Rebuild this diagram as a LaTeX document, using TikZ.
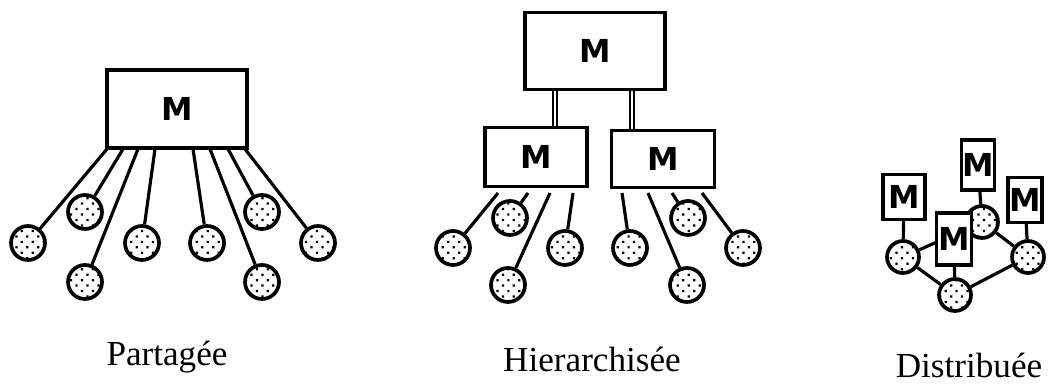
\documentclass[tikz,border=0pt]{standalone}
\usepackage{fontspec}
\setmainfont{Liberation Serif}
\setsansfont{DejaVu Sans}
\usetikzlibrary{patterns.meta}

\tikzdeclarepattern{
  name=spots,
  type=uncolored,
  bounding box={(-2.5pt,-2.5pt) and (2.5pt,2.5pt)},
  tile size={(4.4pt,4.4pt)},
  tile transformation={rotate=45},
  code={\fill (0,0) circle (0.9pt);}
}

\begin{document}
\begin{tikzpicture}[x=0.02cm,y=-0.02cm,line width=1.8pt,
  mem/.style={draw,fill=white,inner sep=0pt,font=\sffamily\bfseries\fontsize{18}{18}\selectfont},
  disc/.style={circle,draw,line width=2.1pt,preaction={fill=white},pattern=spots,
    pattern color=black,minimum size=0.68cm,inner sep=0pt},
  small disc/.style={disc,minimum size=0.64cm},
  bus/.style={double,double distance=1.1pt,line width=1.4pt},
  caption/.style={font=\fontsize{20}{20}\selectfont,anchor=base}]
\useasboundingbox (0,0) rectangle (1051,384);

% Partagee
\node[mem,minimum width=2.8cm,minimum height=1.56cm] (pm) at (177,109) {M};
\foreach \n/\cx/\cy/\ax in {1/28/243/107,2/85/212/123,3/85/282/138,4/142/243/155,
    5/207/243/193,6/262/282/210,7/262/212/228,8/318/243/245}{
  \node[disc] (p\n) at (\cx,\cy) {};
  \coordinate (pa\n) at (\ax,149);
  \draw (p\n) -- (pa\n);
}
\node[caption] (lblp) at (167,366) {Partagée};

% Hierarchisee
\node[mem,minimum width=2.8cm,minimum height=1.54cm] (hm) at (595,51) {M};
\node[mem,minimum width=2.04cm,minimum height=1.18cm] (hl) at (536,157) {M};
\node[mem,minimum width=2.06cm,minimum height=1.14cm] (hr) at (663,159) {M};
\draw[bus] (hl.north -| 555,0) -- (hm.south -| 555,0);
\draw[bus] (hr.north -| 632,0) -- (hm.south -| 632,0);
\foreach \n/\cx/\cy/\ax in {1/453/248/498,2/510/218/528,3/508/285/550,4/565/248/573,
    5/630/248/622,6/687/285/648,7/688/218/672,8/743/248/702}{
  \node[disc] (h\n) at (\cx,\cy) {};
  \coordinate (ha\n) at (\ax,193);
  \draw (h\n) -- (ha\n);
}
\node[caption] (lblh) at (592,372) {Hierarchisée};

% Distribuee
\node[small disc] (ca) at (903,257) {};
\node[small disc] (cb) at (982,222) {};
\node[small disc] (cc) at (1028,257) {};
\node[small disc] (cd) at (955,295) {};
\draw (ca) -- (cb) -- (cc) -- (cd) -- (ca);
\node[mem,minimum width=0.84cm,minimum height=0.9cm] (ma) at (904,197) {M};
\node[mem,minimum width=0.66cm,minimum height=1.0cm] (mb) at (978,165) {M};
\node[mem,minimum width=0.68cm,minimum height=0.9cm] (mc) at (1025,200) {M};
\draw (ma) -- (ca) (mb) -- (cb) (mc) -- (cc);
\node[mem,minimum width=0.7cm,minimum height=1.04cm] (md) at (954,239) {M};
\draw (md) -- (cd);
\node[caption] (lbld) at (969,378) {Distribuée};
\end{tikzpicture}
\end{document}
